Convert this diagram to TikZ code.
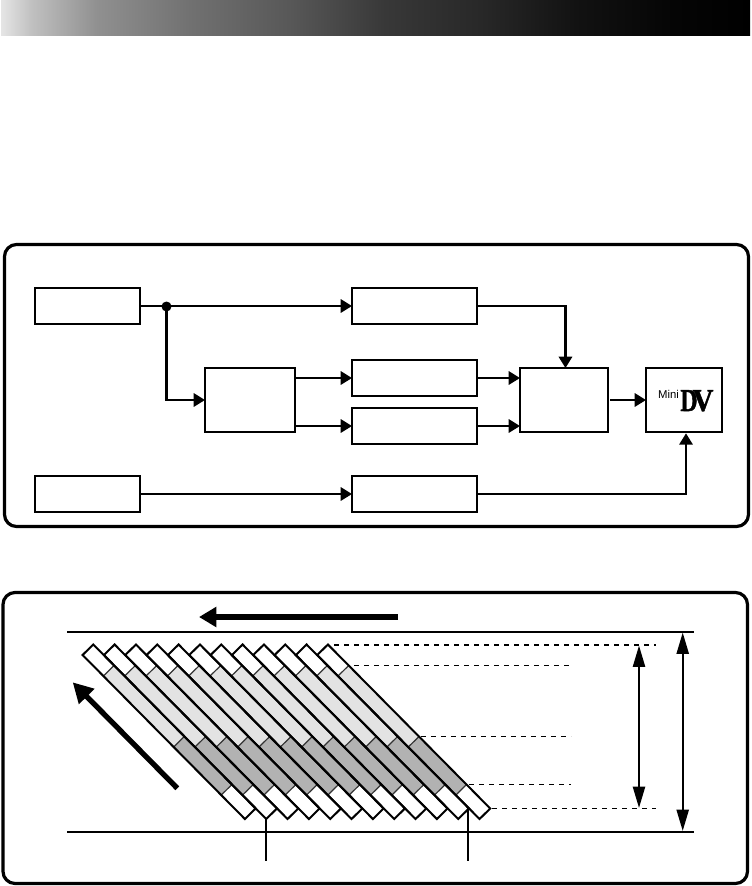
\documentclass[tikz,border=0pt]{standalone}
\usepackage{fontspec}
\setmainfont{Liberation Sans}
\newfontfamily\logoserif{Liberation Serif}[BoldFeatures={FakeBold=1.5}]
\usetikzlibrary{arrows.meta,calc}
\pgfdeclarehorizontalshading{barshade}{100bp}{rgb(0bp)=(.9,.9,.9); rgb(25bp)=(.9,.9,.9); rgb(27.06bp)=(.753,.753,.753); rgb(31.4bp)=(.565,.565,.565); rgb(37.8bp)=(.44,.44,.44); rgb(44.2bp)=(.345,.345,.345); rgb(50.6bp)=(.22,.22,.22); rgb(57bp)=(.157,.157,.157); rgb(63.4bp)=(.07,.07,.07); rgb(69.8bp)=(.02,.02,.02); rgb(75bp)=(0,0,0); rgb(100bp)=(0,0,0)}
\tikzset{
  x=0.75pt, y=-0.75pt,
  panel/.style={draw=black, line width=2.4pt, rounded corners=9pt, fill=white},
  block/.style={draw=black, line width=1.7pt, fill=white, rectangle, inner sep=0pt, outer sep=0pt},
  flow/.style={line width=1.7pt, -{Triangle[length=8.5pt,width=10pt]}},
  plain/.style={line width=1.7pt},
  bigarrow/.style={line width=4pt, -{Triangle[length=13pt,width=14.5pt]}},
  diagarrow/.style={line width=4pt, -{Triangle[length=15pt,width=15.5pt]}},
  dimarrow/.style={line width=1.7pt, {Triangle[length=16pt,width=9pt]}-{Triangle[length=16pt,width=9pt]}},
  rule/.style={line width=1.8pt},
  leader/.style={line width=0.8pt, dash pattern=on 4pt off 3.5pt},
  trackedge/.style={draw=black, line width=1.5pt},
  trackdiv/.style={draw=black!80, line width=0.9pt},
}
\begin{document}
\begin{tikzpicture}
\useasboundingbox (0,0) rectangle (751,886);
\fill[white] (0,0) rectangle (751,886);
\shade[shading=barshade] (1,0) rectangle (750,35);
% panels
\path[panel] (4.5,244.5) rectangle (748.5,526.5);
\path[panel] (3,592.5) rectangle (747.5,883.5);
% blocks
\node[block, minimum width=78.75pt, minimum height=27pt] (A) at (87.5,306) {};
\node[block, minimum width=93.75pt, minimum height=27pt] (B) at (414.5,306) {};
\node[block, minimum width=67.5pt, minimum height=48pt] (C) at (250,400) {};
\node[block, minimum width=93.75pt, minimum height=27pt] (D) at (414.5,378) {};
\node[block, minimum width=93.75pt, minimum height=27pt] (E) at (414.5,426) {};
\node[block, minimum width=66pt, minimum height=48pt] (F) at (564,400) {};
\node[block, minimum width=57pt, minimum height=48pt] (G) at (684,400) {};
\node[block, minimum width=78.75pt, minimum height=27pt] (H) at (87.5,494) {};
\node[block, minimum width=93.75pt, minimum height=27pt] (I) at (414.5,494) {};
\node[circle, fill=black, inner sep=0pt, minimum size=7.5pt] (J) at (166.5,306.5) {};
% logo
\node[anchor=base, inner sep=0pt, font=\fontsize{8.5pt}{8.5pt}\selectfont] (mini) at (668.5,398) {Mini};
\node[anchor=base, inner sep=0pt, xscale=.74, font=\logoserif\bfseries\fontsize{24pt}{24pt}\selectfont] (logoD) at (689,411) {D};
\node[anchor=base, inner sep=0pt, xscale=.9, font=\logoserif\bfseries\fontsize{24pt}{24pt}\selectfont] (logoV) at (703,411) {V};
% connectors
\draw[flow] (A.east) -- (B.west);
\draw[flow] (J.center) |- (C.west);
\draw[flow] (C.east |- D.west) -- (D.west);
\draw[flow] (C.east |- E.west) -- (E.west);
\draw[flow] ([yshift=0pt]B.east) -| ([xshift=1.1pt]F.north);
\draw[flow] (D.east) -- (D.east -| F.west);
\draw[flow] (E.east) -- (E.east -| F.west);
\draw[flow, shorten <=1.5pt] (F.east) -- (G.west);
\draw[flow] (H.east) -- (I.west);
\draw[flow] (I.east) -| ([xshift=1.5pt,yshift=-1pt]G.south);
% tape rules
\coordinate (r1a) at (67,631.7);
\coordinate (r1b) at (694,631.7);
\coordinate (r2a) at (67,831.7);
\coordinate (r2b) at (694,831.7);
\draw[rule] (r1a) -- (r1b);
\draw[rule] (r2a) -- (r2b);
% tracks
\foreach \i in {0,...,11}{
  \pgfmathsetmacro{\tx}{93.3+21.33*\i}
  \coordinate (p) at (\tx,644.5);
  \coordinate (l) at ($(p)+(-10.7,10.5)$);
  \foreach \a/\b/\c in {0/.128/white,.128/.561/black!11,.561/.854/black!30,.854/1/white}{
    \fill[\c] ($(p)+\a*(162.3,164)$) -- ($(p)+\b*(162.3,164)$) -- ($(l)+\b*(162.3,164)$) -- ($(l)+\a*(162.3,164)$) -- cycle;
  }
  \foreach \a in {.128,.561,.854}{
    \draw[trackdiv] ($(p)+\a*(162.3,164)$) -- ($(l)+\a*(162.3,164)$);
  }
}
\foreach \i in {0,...,11}{
  \pgfmathsetmacro{\tx}{93.3+21.33*\i}
  \coordinate (p) at (\tx,644.5);
  \coordinate (l) at ($(p)+(-10.7,10.5)$);
  \draw[trackedge, line join=miter] (p) -- ($(p)+(162.3,164)$) -- ($(l)+(162.3,164)$) -- (l) -- cycle;
}
% leaders
\coordinate (d1a) at (334,645); \coordinate (d1b) at (656,645);
\coordinate (d2a) at (354,665.3); \coordinate (d2b) at (571,665.3);
\coordinate (d3a) at (421,736.3); \coordinate (d3b) at (571,736.3);
\coordinate (d4a) at (469,784.3); \coordinate (d4b) at (571,784.3);
\coordinate (d5a) at (492,808.3); \coordinate (d5b) at (656,808.3);
\draw[leader] (d1a) -- (d1b);
\draw[leader] (d2a) -- (d2b);
\draw[leader] (d3a) -- (d3b);
\draw[leader] (d4a) -- (d4b);
\draw[leader] (d5a) -- (d5b);
% ticks
\coordinate (t1a) at (266,819); \coordinate (t1b) at (266,860.5);
\coordinate (t2a) at (468,808); \coordinate (t2b) at (468,860.5);
\draw[plain] (t1a) -- (t1b);
\draw[plain] (t2a) -- (t2b);
% dimension arrows
\coordinate (v1a) at (639,645.5); \coordinate (v1b) at (639,808);
\coordinate (v2a) at (682.7,632.5); \coordinate (v2b) at (682.7,831);
\draw[dimarrow] (v1a) -- (v1b);
\draw[dimarrow] (v2a) -- (v2b);
% large arrows
\coordinate (b1a) at (398,617); \coordinate (b1b) at (199,617);
\coordinate (b2a) at (177.3,788.3); \coordinate (b2b) at (72.7,682.3);
\draw[bigarrow] (b1a) -- (b1b);
\draw[diagarrow] (b2a) -- (b2b);
\end{tikzpicture}
\end{document}
